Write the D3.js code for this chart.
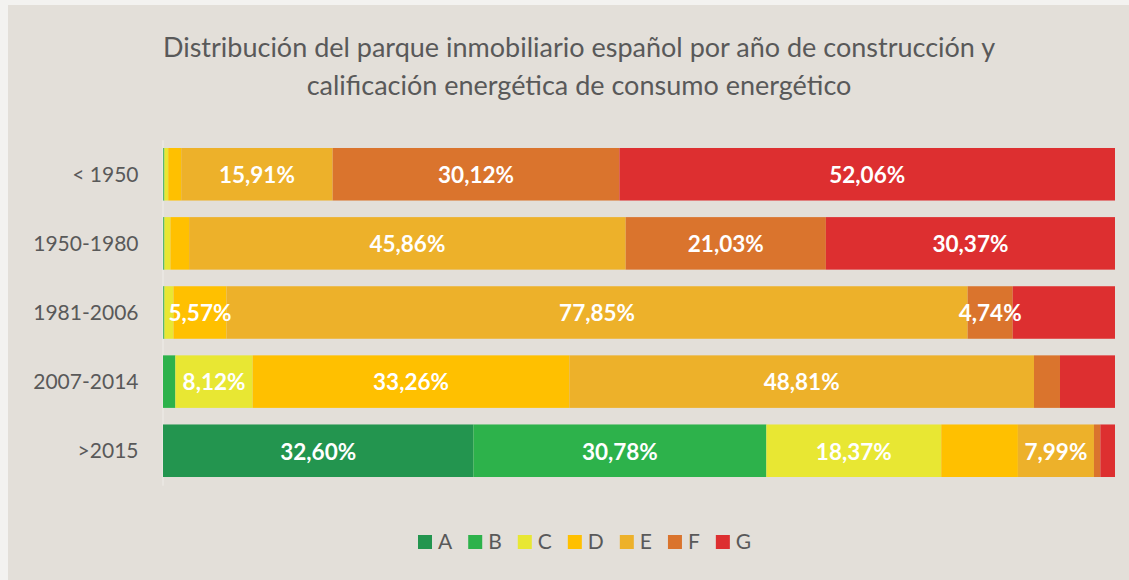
<!DOCTYPE html>
<html>
<head>
<meta charset="utf-8">
<script src="https://cdn.jsdelivr.net/npm/d3@7/dist/d3.min.js"></script>
<style>
  html, body { margin: 0; padding: 0; background: #f3f2f0; }
  svg { display: block; }
</style>
</head>
<body>
<svg id="chart" width="1129" height="580"></svg>
<script>
// ---- data ----
const categories = ["< 1950", "1950-1980", "1981-2006", "2007-2014", ">2015"];
const grades = ["A", "B", "C", "D", "E", "F", "G"];
const valuesA = [0.05, 0.05, 0.05, 0.00, 32.60];
const valuesB = [0.10, 0.10, 0.10, 1.30, 30.78];
const valuesC = [0.40, 0.63, 0.95, 8.12, 18.37];
const valuesD = [1.36, 1.96, 5.57, 33.26, 8.05];
const valuesE = [15.91, 45.86, 77.85, 48.81, 7.99];
const valuesF = [30.12, 21.03, 4.74, 2.73, 0.67];
const valuesG = [52.06, 30.37, 10.74, 5.78, 1.54];
const labelledGrades = [
  ["E", "F", "G"],
  ["E", "F", "G"],
  ["D", "E", "F"],
  ["C", "D", "E"],
  ["A", "B", "C", "E"]
];
const titleLines = [
  "Distribución del parque inmobiliario español por año de construcción y",
  "calificación energética de consumo energético"
];

// ---- styles ----
const colors = ["#23954f", "#2db24b", "#e8e733", "#ffc000", "#edb12a", "#da742d", "#dd2f30"];
const font = "Lato, 'Open Sans', sans-serif";

const seriesValues = [valuesA, valuesB, valuesC, valuesD, valuesE, valuesF, valuesG];
const table = categories.map((c, i) => {
  const row = { category: c };
  grades.forEach((g, j) => row[g] = seriesValues[j][i]);
  return row;
});

const svg = d3.select("#chart");

// panel background
svg.append("rect").attr("x", 8).attr("y", 5).attr("width", 1129 - 8).attr("height", 580 - 5)
  .attr("fill", "#e3dfd9");

// title
svg.append("g").selectAll("text").data(titleLines).join("text")
  .attr("x", 579).attr("y", (d, i) => 57 + i * 38)
  .attr("text-anchor", "middle")
  .attr("font-family", font).attr("font-size", 27)
  .attr("fill", "#595959")
  .text(d => d);

const x = d3.scaleLinear().domain([0, 100]).range([163, 1115]);
const y = d3.scaleBand().domain(categories).range([139.7, 485.3]).paddingInner(0.24).paddingOuter(0.12);

const stack = d3.stack().keys(grades);
const series = stack(table);

// axis
const yAxis = d3.axisLeft(y).tickSize(0).tickPadding(24);
const ag = svg.append("g").attr("transform", `translate(${x(0) - 0.5},0)`).call(yAxis);
ag.select(".domain").attr("stroke", "#ebe8e3").attr("stroke-width", 1.5);
ag.selectAll("text").attr("font-family", font).attr("font-size", 21).attr("fill", "#595959").attr("dy", "0.35em");

// bars
const layers = svg.append("g").selectAll("g").data(series).join("g")
  .attr("fill", (d, i) => colors[i]);
layers.selectAll("rect").data(d => d.map(p => ({ p, key: d.key }))).join("rect")
  .attr("x", d => x(d.p[0]))
  .attr("width", d => Math.max(0, x(d.p[1]) - x(d.p[0])))
  .attr("y", d => y(d.p.data.category))
  .attr("height", y.bandwidth());

// labels
const fmt = v => d3.format(".2f")(v).replace(".", ",") + "%";
const labelData = [];
series.forEach(s => s.forEach((p, i) => {
  if (labelledGrades[i].includes(s.key)) labelData.push({ p, key: s.key });
}));
svg.append("g").selectAll("text").data(labelData).join("text")
  .attr("x", d => (x(d.p[0]) + x(d.p[1])) / 2)
  .attr("y", d => y(d.p.data.category) + y.bandwidth() / 2 + 1)
  .attr("dy", "0.35em")
  .attr("text-anchor", "middle")
  .attr("font-family", font).attr("font-weight", "bold").attr("font-size", 22.5)
  .attr("fill", "#ffffff")
  .text(d => fmt(d.p.data[d.key]));

// legend
const lg = svg.append("g");
let lx = 418;
grades.forEach((g, i) => {
  lg.append("rect").attr("x", lx).attr("y", 535).attr("width", 14).attr("height", 14).attr("fill", colors[i]);
  const t = lg.append("text").attr("x", lx + 20).attr("y", 542).attr("dy", "0.35em")
    .attr("font-family", font).attr("font-size", 21).attr("fill", "#595959").text(g);
  lx = lx + 20 + t.node().getComputedTextLength() + 16;
});
</script>
</body>
</html>
